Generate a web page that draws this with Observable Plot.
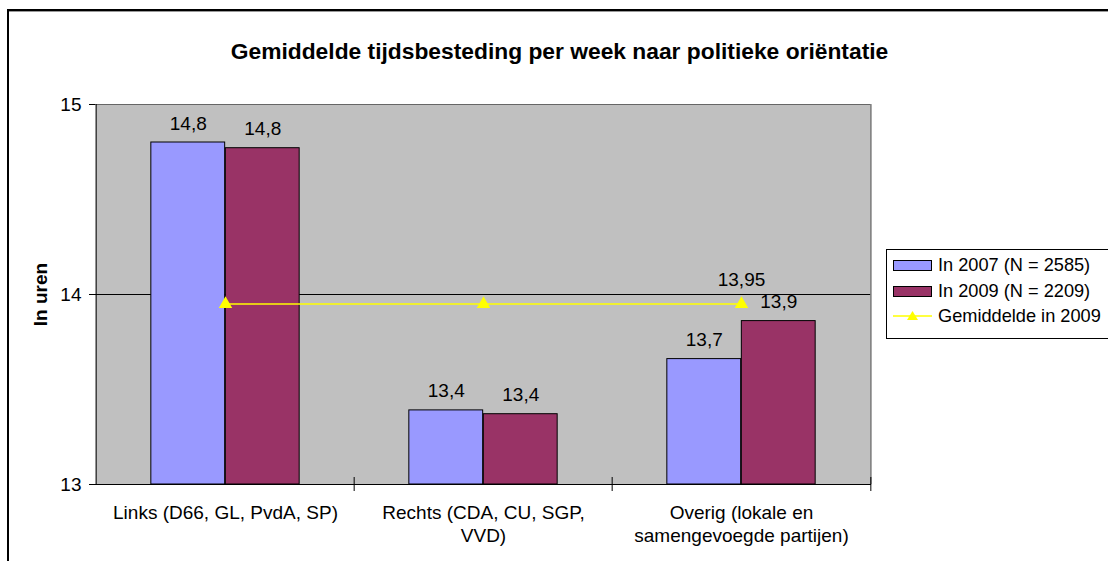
<!DOCTYPE html>
<html>
<head>
<meta charset="utf-8">
<script src="https://cdn.jsdelivr.net/npm/d3@7"></script>
<script src="https://cdn.jsdelivr.net/npm/@observablehq/plot@0.6"></script>
<style>
  html, body { margin: 0; padding: 0; background: #fff; overflow: hidden; }
  #wrap { position: relative; width: 1108px; height: 561px; font-family: "Liberation Sans", Arial, sans-serif; }
  #border { position: absolute; left: 7px; top: 9px; width: 1200px; height: 700px; border-top: 2px solid #000; border-left: 2px solid #000; box-shadow: inset 0 1px 0 #999; }
  #chart { position: absolute; left: 0; top: 0; }
  #legend { position: absolute; left: 886px; top: 249px; width: 260px; height: 88px; border: 1px solid #000; background: #fff; font-size: 18.2px; color: #000; }
  .item { position: absolute; left: 6px; height: 24px; display: flex; align-items: center; white-space: nowrap; }
  .sw { width: 37px; height: 9px; border: 1px solid #000; margin-right: 6px; }
</style>
</head>
<body>
<div id="wrap">
  <div id="border"></div>
  <div id="chart"></div>
  <div id="legend"></div>
</div>
<script>
// ---- data ----
const categories = ["Links (D66, GL, PvdA, SP)", "Rechts (CDA, CU, SGP, VVD)", "Overig (lokale en samengevoegde partijen)"];
const categoryLabels = ["Links (D66, GL, PvdA, SP)", "Rechts (CDA, CU, SGP,\nVVD)", "Overig (lokale en\nsamengevoegde partijen)"];
const seriesNames = ["In 2007 (N = 2585)", "In 2009 (N = 2209)"];
const seriesColors = ["#9999FF", "#993366"];
const values2007 = [14.80, 13.39, 13.66];
const values2009 = [14.77, 13.37, 13.86];
const averageName = "Gemiddelde in 2009";
const average2009 = [13.95, 13.95, 13.95];
const yTicks = [13, 14, 15];
const titleText = "Gemiddelde tijdsbesteding per week naar politieke oriëntatie";
const yTitle = "In uren";

// ---- tables ----
const rows2007 = categories.map((c, i) => ({category: c, value: values2007[i]}));
const rows2009 = categories.map((c, i) => ({category: c, value: values2009[i]}));
const avgRows = categories.map((c, i) => ({category: c, value: average2009[i]}));

const fmt1 = v => d3.format(".1f")(v).replace(".", ",");
const fmt2 = v => d3.format(".2f")(v).replace(".", ",");

const W = 1108, H = 561;
const mL = 95, mR = 237, mT = 104, mB = 77;
const half = (W - mL - mR) / categories.length / 2;
const barW = 74.5;

const chart = Plot.plot({
  width: W, height: H,
  marginLeft: mL, marginRight: mR, marginTop: mT, marginBottom: mB,
  style: {fontFamily: "'Liberation Sans', Arial, sans-serif", fontSize: "19px", background: "transparent", color: "#000", overflow: "visible"},
  x: {type: "band", domain: categories, padding: 0, axis: null},
  y: {domain: [13, 15], ticks: yTicks, tickFormat: d => String(d), tickSize: 6, tickPadding: 8, label: null},
  marks: [
    Plot.frame({fill: "#C0C0C0", stroke: "none"}),
    Plot.ruleY([14], {stroke: "#000"}),
    Plot.ruleY([15], {stroke: "#666"}),
    Plot.ruleX([categories[categories.length - 1]], {y1: 13, y2: 15, dx: half, stroke: "#808080", strokeWidth: 1.5}),
    Plot.barY(rows2007, {x: "category", y1: 13, y2: "value", fill: seriesColors[0], stroke: "#000", strokeWidth: 1, insetLeft: half - barW, insetRight: half}),
    Plot.barY(rows2009, {x: "category", y1: 13, y2: "value", fill: seriesColors[1], stroke: "#000", strokeWidth: 1, insetLeft: half, insetRight: half - barW}),
    Plot.text(rows2007, {x: "category", y: "value", text: d => fmt1(d.value), dx: -barW / 2, dy: -19}),
    Plot.text(rows2009, {x: "category", y: "value", text: d => fmt1(d.value), dx: barW / 2, dy: -19}),
    Plot.line(avgRows, {x: "category", y: "value", stroke: "#FFFF00", strokeWidth: 1.5}),
    Plot.dot(avgRows, {x: "category", y: "value", symbol: "triangle", r: 5, fill: "#FFFF00", stroke: "none"}),
    Plot.text(avgRows.slice(-1), {x: "category", y: "value", text: d => fmt2(d.value), dy: -24}),
    // axis lines
    Plot.ruleX([categories[0]], {y1: 13, y2: 15, dx: -half, stroke: "#000"}),
    Plot.ruleY([13], {stroke: "#000"}),
    // category boundary ticks
    Plot.ruleX(categories.slice(1), {y1: 13, y2: 13, dx: -half, insetTop: 7, insetBottom: 7, stroke: "#000"}),
    Plot.ruleX(categories.slice(-1), {y1: 13, y2: 13, dx: half, insetTop: 7, insetBottom: 7, stroke: "#000"}),
    // category labels
    Plot.text(categories, {x: d => d, text: (d, i) => categoryLabels[i], frameAnchor: "bottom", lineAnchor: "top", dy: 18, lineHeight: 1.22}),
    // y title
    Plot.text([yTitle], {frameAnchor: "left", textAnchor: "middle", dx: -55, rotate: -90, fontWeight: "bold", fontSize: 19}),
    // title
    Plot.text([titleText], {frameAnchor: "top", dx: 76, dy: -62, fontWeight: "bold", fontSize: 22.8})
  ]
});
document.getElementById("chart").appendChild(chart);

// ---- legend ----
const legend = document.getElementById("legend");
const rowTops = [3, 29, 54];
seriesNames.forEach((name, i) => {
  const it = document.createElement("div");
  it.className = "item";
  it.style.top = rowTops[i] + "px";
  it.innerHTML = `<div class="sw" style="background:${seriesColors[i]}"></div><span>${name}</span>`;
  legend.appendChild(it);
});
const it = document.createElement("div");
it.className = "item";
it.style.top = rowTops[2] + "px";
it.innerHTML = `<svg width="39" height="12" style="margin-right:6px"><line x1="0" y1="6" x2="39" y2="6" stroke="#FFFF00" stroke-width="1.5"/><path d="M19.5,1 L25,10 L14,10 Z" fill="#FFFF00"/></svg><span>${averageName}</span>`;
legend.appendChild(it);
</script>
</body>
</html>
